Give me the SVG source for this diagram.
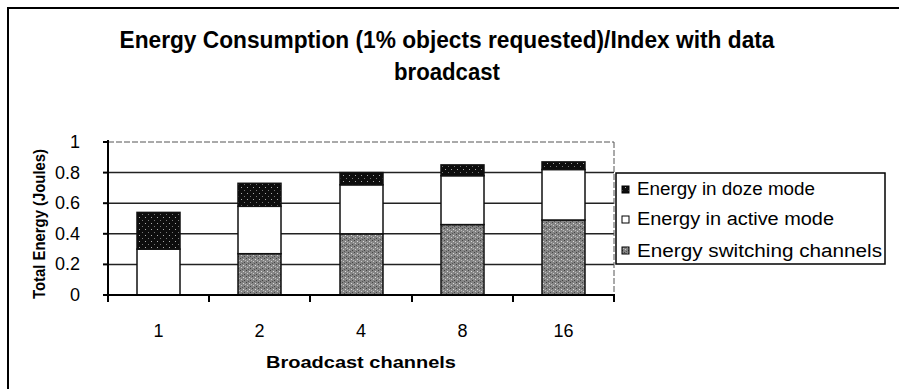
<svg xmlns="http://www.w3.org/2000/svg" width="899" height="389" viewBox="0 0 899 389">
<style>
text{font-family:"Liberation Sans",Arial,sans-serif;fill:#000}
.title{font-size:23px;font-weight:bold;text-anchor:middle}
.tick{font-size:18px;text-anchor:end}
.cat{font-size:18px;text-anchor:middle}
.axl{font-size:16px;font-weight:bold;text-anchor:middle}
.leg{font-size:18px}
.grid{stroke:#222;stroke-width:1.5}
.frame{stroke:#000;stroke-width:2;fill:none}
.bar{stroke:#111;stroke-width:1.5}
.doze{fill:url(#pDoze)}
.act{fill:#fff}
.sw{fill:url(#pSw)}
</style>
<defs>
<pattern id="pDoze" width="6" height="6" patternUnits="userSpaceOnUse">
<rect width="6" height="6" fill="#0d0d0d"/>
<rect x="1" y="1" width="1" height="1" fill="#aaa"/>
<rect x="4" y="4" width="1" height="1" fill="#777"/>
</pattern>
<pattern id="pSw" width="6" height="6" patternUnits="userSpaceOnUse">
<rect width="6" height="6" fill="#858585"/>
<rect x="0" y="0" width="1" height="1" fill="#444"/>
<rect x="3" y="1" width="1" height="1" fill="#ddd"/>
<rect x="1" y="3" width="1" height="1" fill="#ccc"/>
<rect x="4" y="4" width="1" height="1" fill="#444"/>
<rect x="2" y="5" width="1" height="1" fill="#555"/>
<rect x="5" y="2" width="1" height="1" fill="#bbb"/>
</pattern>
</defs>
<rect width="899" height="389" fill="#fff"/>
<path class="frame" d="M8,389 V8 H899"/>
<g id="title">
<text class="title" x="447" y="48" textLength="655" lengthAdjust="spacingAndGlyphs">Energy Consumption (1% objects requested)/Index with data</text>
<text class="title" x="447" y="80" textLength="106" lengthAdjust="spacingAndGlyphs">broadcast</text>
</g>
<g id="plot">
<line x1="108" y1="142" x2="614" y2="142" stroke="#555" stroke-width="1" stroke-dasharray="6 2"/>
<line class="grid" x1="108" y1="172.6" x2="614" y2="172.6"/>
<line class="grid" x1="108" y1="203.2" x2="614" y2="203.2"/>
<line class="grid" x1="108" y1="233.8" x2="614" y2="233.8"/>
<line class="grid" x1="108" y1="264.4" x2="614" y2="264.4"/>
<line x1="614" y1="142" x2="614" y2="295" stroke="#555" stroke-width="1" stroke-dasharray="6 2"/>
</g>
<g id="bars">
<g id="bar-1">
<rect class="bar act" x="137" y="249.1" width="43" height="45.9"/>
<rect class="bar doze" x="137" y="212.4" width="43" height="36.7"/>
</g>
<g id="bar-2">
<rect class="bar sw" x="238" y="253.7" width="43" height="41.3"/>
<rect class="bar act" x="238" y="206.3" width="43" height="47.4"/>
<rect class="bar doze" x="238" y="183.3" width="43" height="23"/>
</g>
<g id="bar-4">
<rect class="bar sw" x="340" y="233.8" width="43" height="61.2"/>
<rect class="bar act" x="340" y="184.8" width="43" height="49"/>
<rect class="bar doze" x="340" y="172.6" width="43" height="12.2"/>
</g>
<g id="bar-8">
<rect class="bar sw" x="441" y="224.6" width="43" height="70.4"/>
<rect class="bar act" x="441" y="175.7" width="43" height="48.9"/>
<rect class="bar doze" x="441" y="164.9" width="43" height="10.8"/>
</g>
<g id="bar-16">
<rect class="bar sw" x="542" y="220" width="43" height="75"/>
<rect class="bar act" x="542" y="169.5" width="43" height="50.5"/>
<rect class="bar doze" x="542" y="161.9" width="43" height="7.6"/>
</g>
</g>
<g id="axes" stroke="#000" stroke-width="2">
<line x1="108" y1="140" x2="108" y2="296"/>
<line x1="107" y1="295" x2="615" y2="295"/>
<line x1="103" y1="142" x2="108" y2="142"/>
<line x1="103" y1="172.6" x2="108" y2="172.6"/>
<line x1="103" y1="203.2" x2="108" y2="203.2"/>
<line x1="103" y1="233.8" x2="108" y2="233.8"/>
<line x1="103" y1="264.4" x2="108" y2="264.4"/>
<line x1="103" y1="295" x2="108" y2="295"/>
<line x1="108" y1="295" x2="108" y2="302"/>
<line x1="209" y1="295" x2="209" y2="302"/>
<line x1="310" y1="295" x2="310" y2="302"/>
<line x1="412" y1="295" x2="412" y2="302"/>
<line x1="513" y1="295" x2="513" y2="302"/>
<line x1="614" y1="295" x2="614" y2="302"/>
</g>
<g id="y-ticks">
<text class="tick" x="80" y="148">1</text>
<text class="tick" x="80" y="178.6">0.8</text>
<text class="tick" x="80" y="209.2">0.6</text>
<text class="tick" x="80" y="239.8">0.4</text>
<text class="tick" x="80" y="270.4">0.2</text>
<text class="tick" x="80" y="301">0</text>
</g>
<g id="x-ticks">
<text class="cat" x="158.5" y="337">1</text>
<text class="cat" x="259.5" y="337">2</text>
<text class="cat" x="361" y="337">4</text>
<text class="cat" x="462.5" y="337">8</text>
<text class="cat" x="563.5" y="337">16</text>
</g>
<g id="axis-titles">
<text class="axl" x="361" y="368" textLength="190" lengthAdjust="spacingAndGlyphs">Broadcast channels</text>
<text class="axl" transform="translate(45,224) rotate(-90)" textLength="150" lengthAdjust="spacingAndGlyphs">Total Energy (Joules)</text>
</g>
<g id="legend">
<rect x="616" y="173" width="269" height="91" fill="#fff" stroke="#000" stroke-width="1.5"/>
<rect x="622" y="186" width="7" height="7" fill="url(#pDoze)" stroke="#000"/>
<text class="leg" x="637" y="195" textLength="178" lengthAdjust="spacingAndGlyphs">Energy in doze mode</text>
<rect x="622" y="216" width="7" height="7" fill="#fff" stroke="#000"/>
<text class="leg" x="637" y="225" textLength="197" lengthAdjust="spacingAndGlyphs">Energy in active mode</text>
<rect x="622" y="247" width="7" height="7" fill="url(#pSw)" stroke="#000"/>
<text class="leg" x="637" y="257" textLength="245" lengthAdjust="spacingAndGlyphs">Energy switching channels</text>
</g>
</svg>
